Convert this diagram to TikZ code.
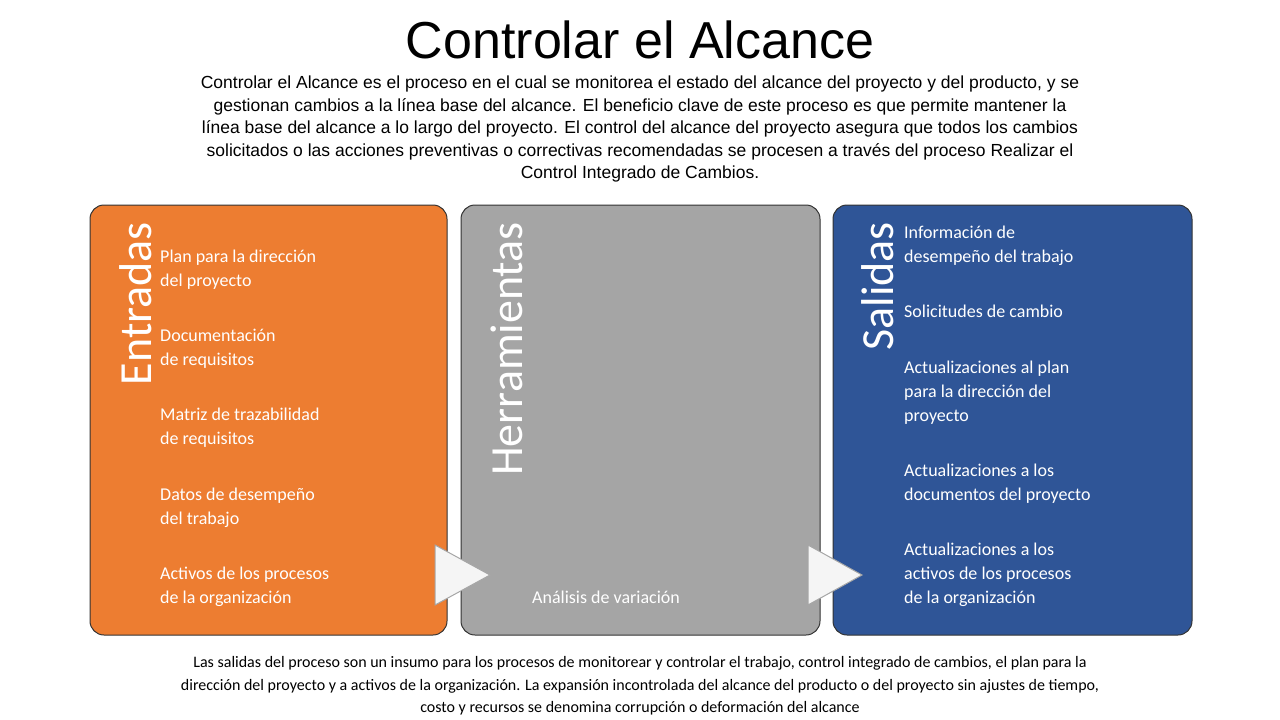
\documentclass[tikz,border=0pt]{standalone}
\usepackage{fontspec}
\setmainfont{Liberation Sans}
\newfontfamily\carlfont{Carlito}
\begin{document}
\begin{tikzpicture}[x=1pt,y=-1pt,
  panel/.style={draw=black!80,line width=1pt,rounded corners=14pt},
  vtitle/.style={rotate=90,anchor=south east,text=white,font=\carlfont\fontsize{46}{46}\selectfont,inner sep=0pt},
  item/.style={anchor=north west,text=white,align=left,font=\carlfont\fontsize{18}{24}\selectfont,inner sep=0pt},
  tri/.style={draw=gray!70,fill=gray!8,line width=1pt}]
\useasboundingbox (0,0) rectangle (1280,720);
\node (title) at (640,40) {\fontsize{52}{52}\selectfont Controlar el Alcance};
\node[align=center,font=\fontsize{17.5}{22.5}\selectfont] (desc) at (640,129) {Controlar el Alcance es el proceso en el cual se monitorea el estado del alcance del proyecto y del producto, y se\\gestionan cambios a la línea base del alcance. El beneficio clave de este proceso es que permite mantener la\\línea base del alcance a lo largo del proyecto. El control del alcance del proyecto asegura que todos los cambios\\solicitados o las acciones preventivas o correctivas recomendadas se procesen a través del proceso Realizar el\\Control Integrado de Cambios.};
\draw[panel,fill={rgb,255:red,237;green,125;blue,49}] (90,205) rectangle (447,635);
\draw[panel,fill={rgb,255:red,165;green,165;blue,165}] (461,205) rectangle (820,635);
\draw[panel,fill={rgb,255:red,47;green,85;blue,151}] (833,205) rectangle (1192,635);
\node[vtitle] (t1) at (152,222) {Entradas};
\node[vtitle] (t2) at (523,222) {Herramientas};
\node[vtitle] (t3) at (894,222) {Salidas};
\node[item] (e1) at (160,250) {Plan para la dirección\\del proyecto};
\node[item] (e2) at (160,329) {Documentación\\de requisitos};
\node[item] (e3) at (160,408) {Matriz de trazabilidad\\de requisitos};
\node[item] (e4) at (160,488) {Datos de desempeño\\del trabajo};
\node[item] (e5) at (160,567) {Activos de los procesos\\de la organización};
\node[item] (h1) at (532,591) {Análisis de variación};
\node[item] (s1) at (904,226) {Información de\\desempeño del trabajo};
\node[item] (s2) at (904,305) {Solicitudes de cambio};
\node[item] (s3) at (904,361) {Actualizaciones al plan\\para la dirección del\\proyecto};
\node[item] (s4) at (904,464) {Actualizaciones a los\\documentos del proyecto};
\node[item] (s5) at (904,543) {Actualizaciones a los\\activos de los procesos\\de la organización};
\draw[tri] (435,545) -- (490,575) -- (435,605) -- cycle;
\draw[tri] (808,545) -- (862,575) -- (808,605) -- cycle;
\node[align=center,font=\carlfont\fontsize{16}{22.5}\selectfont] (foot) at (640,686) {Las salidas del proceso son un insumo para los procesos de monitorear y controlar el trabajo, control integrado de cambios, el plan para la\\dirección del proyecto y a activos de la organización. La expansión incontrolada del alcance del producto o del proyecto sin ajustes de tiempo,\\costo y recursos se denomina corrupción o deformación del alcance};
\end{tikzpicture}
\end{document}
